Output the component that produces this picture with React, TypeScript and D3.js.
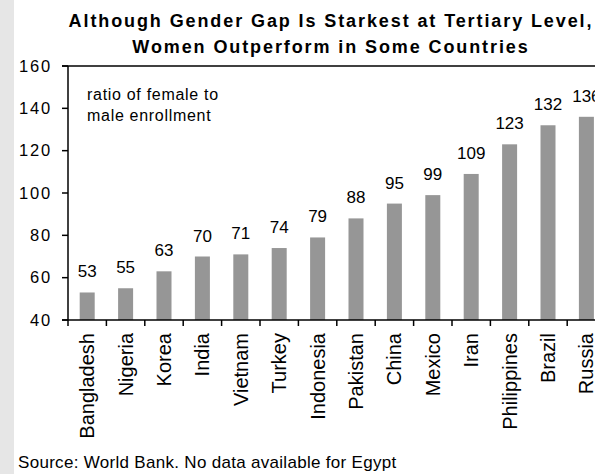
import React from "react";
import * as d3 from "d3";

// Ratio of female to male tertiary enrollment, by country
const countries = [
  "Bangladesh", "Nigeria", "Korea", "India", "Vietnam", "Turkey", "Indonesia",
  "Pakistan", "China", "Mexico", "Iran", "Philippines", "Brazil", "Russia",
];
const ratios = [53, 55, 63, 70, 71, 74, 79, 88, 95, 99, 109, 123, 132, 136];
const yTicks = [40, 60, 80, 100, 120, 140, 160];
const titleLines = [
  "Although Gender Gap Is Starkest at Tertiary Level,",
  "Women Outperform in Some Countries",
];
const noteLines = ["ratio of female to", "male enrollment"];
const sourceText = "Source: World Bank. No data available for Egypt";

const W = 595;
const H = 474;
const FONT = "'Liberation Sans', Arial, Helvetica, sans-serif";

export default function App() {
  const left = 68;
  const top = 66;
  const bottom = 320;
  const step = 38.4;
  const right = left + step * countries.length;
  const barW = 15;

  const x = d3.scaleBand<string>().domain(countries).range([left, right]).padding(0);
  const y = d3.scaleLinear().domain([40, 160]).range([bottom, top]);

  const rows = countries.map((c, i) => ({ c, v: ratios[i] }));
  const boundaries = d3.range(countries.length + 1).map((i) => left + i * x.step());

  return (
    <svg
      width={W}
      height={H}
      style={{ position: "absolute", left: 0, top: 0, background: "#fff" }}
      fontFamily={FONT}
    >
      <rect x={0} y={0} width={W} height={H} fill="#fff" />
      <rect x={0} y={0} width={14} height={H} fill="#e6e6e6" />

      {/* title */}
      {titleLines.map((t, i) => (
        <text
          key={t}
          x={331}
          y={27 + i * 26}
          textAnchor="middle"
          fontSize={18}
          fontWeight="bold"
          letterSpacing={1.9}
          fill="#000"
        >
          {t}
        </text>
      ))}

      {/* bars */}
      {rows.map((d) => (
        <rect
          key={d.c}
          x={(x(d.c) as number) + (x.step() - barW) / 2}
          y={y(d.v)}
          width={barW}
          height={bottom - y(d.v)}
          fill="#969696"
        />
      ))}

      {/* value labels */}
      {rows.map((d) => (
        <text
          key={"v" + d.c}
          x={(x(d.c) as number) + x.step() / 2}
          y={y(d.v) - 15}
          textAnchor="middle"
          fontSize={17}
          fill="#000"
        >
          {d.v}
        </text>
      ))}

      {/* frame lines */}
      <line x1={left - 6} x2={W + 20} y1={top} y2={top} stroke="#000" strokeWidth={1.5} />
      <line x1={left} x2={left} y1={top} y2={bottom} stroke="#000" strokeWidth={1.5} />
      <line x1={left - 6} x2={right} y1={bottom} y2={bottom} stroke="#000" strokeWidth={1.5} />

      {/* y axis ticks and labels */}
      {yTicks.map((t) => (
        <g key={"y" + t}>
          <line x1={left - 6} x2={left} y1={y(t)} y2={y(t)} stroke="#000" strokeWidth={1.5} />
          <text
            x={52}
            y={y(t)}
            dy="0.35em"
            textAnchor="end"
            fontSize={16.5}
            letterSpacing={1.8}
            fill="#000"
          >
            {t}
          </text>
        </g>
      ))}

      {/* x axis ticks */}
      {boundaries.map((bx, i) => (
        <line key={"xt" + i} x1={bx} x2={bx} y1={bottom} y2={bottom + 6} stroke="#000" strokeWidth={1.5} />
      ))}

      {/* category labels */}
      {countries.map((c) => {
        const cx = (x(c) as number) + x.step() / 2;
        return (
          <text
            key={"c" + c}
            transform={`translate(${cx},${bottom + 13}) rotate(-90)`}
            dy="0.35em"
            textAnchor="end"
            fontSize={20}
            fill="#000"
          >
            {c}
          </text>
        );
      })}

      {/* note */}
      {noteLines.map((t, i) => (
        <text key={t} x={87} y={100 + i * 20.5} fontSize={16} letterSpacing={0.7} fill="#000">
          {t}
        </text>
      ))}

      {/* source */}
      <text x={18} y={468} fontSize={17} letterSpacing={0.3} fill="#000">
        {sourceText}
      </text>
    </svg>
  );
}
